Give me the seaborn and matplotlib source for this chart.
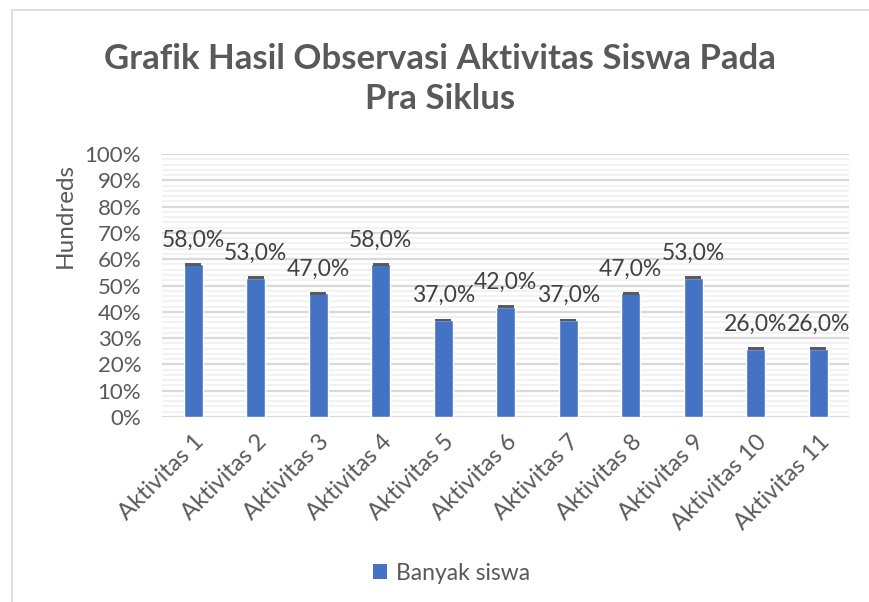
import matplotlib
matplotlib.use("Agg")
import matplotlib.pyplot as plt
import seaborn as sns
import pandas as pd
import numpy as np
from matplotlib.ticker import MultipleLocator, FuncFormatter
from matplotlib.patches import Patch
from matplotlib.lines import Line2D

categories = ["Aktivitas 1", "Aktivitas 2", "Aktivitas 3", "Aktivitas 4", "Aktivitas 5",
              "Aktivitas 6", "Aktivitas 7", "Aktivitas 8", "Aktivitas 9", "Aktivitas 10",
              "Aktivitas 11"]
values = [0.58, 0.53, 0.47, 0.58, 0.37, 0.42, 0.37, 0.47, 0.53, 0.26, 0.26]
labels = ["58,0%", "53,0%", "47,0%", "58,0%", "37,0%", "42,0%", "37,0%", "47,0%", "53,0%", "26,0%", "26,0%"]
series_name = "Banyak siswa"
title = "Grafik Hasil Observasi Aktivitas Siswa Pada\nPra Siklus"
ylabel = "Hundreds"

sns.set_style("white")
plt.rcParams['font.family'] = ['Lato', 'DejaVu Sans']

df = pd.DataFrame({"cat": categories, "val": values})

fig = plt.figure(figsize=(8.7, 6.02), dpi=100)
ax = fig.add_axes([162/870, 1-417/602, 687.5/870, (417-154)/602])

sns.barplot(data=df, x="cat", y="val", color="#4472C4", width=0.3, ax=ax,
            saturation=1, errorbar=None, zorder=3)

xs = np.arange(len(categories))
ax.errorbar(xs, values, yerr=0.0005, fmt='none', ecolor='#595959', elinewidth=0.5,
            capsize=5.5, capthick=1.4, zorder=4)

for x, v, lab in zip(xs, values, labels):
    ax.text(x, v + 0.066, lab, ha='center', va='baseline', fontsize=16.5, color='#404040')

ax.set_ylim(0, 1)
ax.set_xlim(-0.5, len(categories) - 0.5)
ax.yaxis.set_major_locator(MultipleLocator(0.1))
ax.yaxis.set_minor_locator(MultipleLocator(0.02))
ax.yaxis.set_major_formatter(FuncFormatter(lambda v, p: f"{int(round(v*100))}%"))
ax.grid(which='major', axis='y', color='#D9D9D9', linewidth=1.6, zorder=0)
ax.grid(which='minor', axis='y', color='#F0F0F0', linewidth=1.2, zorder=0)
ax.set_axisbelow(True)
for s in ax.spines.values():
    s.set_visible(False)
ax.tick_params(axis='both', which='both', length=0, colors='#595959')
ax.tick_params(axis='y', labelsize=16, pad=15)
ax.tick_params(axis='x', labelsize=17, pad=10)
ax.set_xlabel("")
ax.set_ylabel("")
plt.setp(ax.get_xticklabels(), rotation=45, ha='right', rotation_mode='anchor')

fig.text(65/870, 1-215/602, ylabel, rotation=90, ha='center', va='center',
         fontsize=17.5, color='#595959')

fig.text(440/870, 1-79/602, title, ha='center', va='center', fontsize=25,
         fontweight='bold', color='#595959', linespacing=1.3)

handles = [Patch(facecolor="#4472C4", edgecolor="none")]
fig.legend(handles, [series_name], loc='center', bbox_to_anchor=(452/870, 1-573/602),
           frameon=False, fontsize=16.5, labelcolor='#595959', handlelength=0.6,
           handleheight=0.6, handletextpad=0.4)

# chart border
fig.add_artist(Line2D([12/870, 1], [1-10/602, 1-10/602], transform=fig.transFigure,
                      color='#D9D9D9', linewidth=1.2))
fig.add_artist(Line2D([12/870, 12/870], [0, 1-10/602], transform=fig.transFigure,
                      color='#D9D9D9', linewidth=1.2))

fig.savefig("out.png", dpi=100)
